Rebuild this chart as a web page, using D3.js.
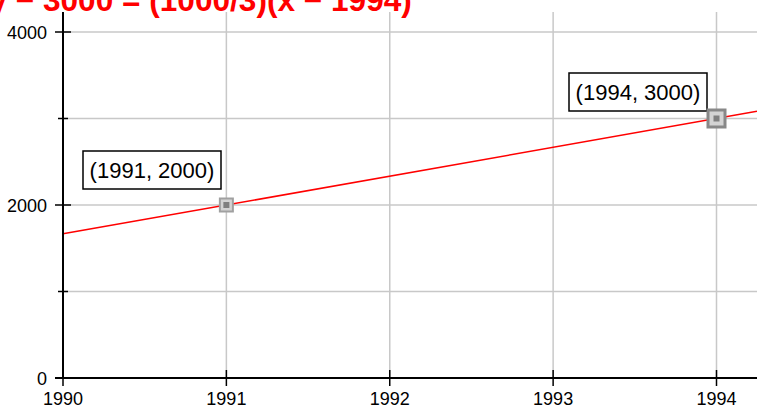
<!DOCTYPE html>
<html>
<head>
<meta charset="utf-8">
<script src="https://cdn.jsdelivr.net/npm/d3@7"></script>
<style>
  html, body { margin: 0; padding: 0; background: #fff; overflow: hidden; }
</style>
</head>
<body>
<div id="chart"></div>
<script>
// data
const titleText = "y \u2212 3000 = (1000/3)(x \u2212 1994)";
const pointsX = [1991, 1994];
const pointsY = [2000, 3000];
const pointLabels = ["(1991, 2000)", "(1994, 3000)"];
const xTicks = [1990, 1991, 1992, 1993, 1994];
const yMajorTicks = [0, 2000, 4000];
const yMinorTicks = [1000, 3000];
const yGrid = [1000, 2000, 3000, 4000];

const width = 757, height = 408;

// scales
const x = d3.scaleLinear().domain([1990, 1994]).range([63, 716.5]);
const y = d3.scaleLinear().domain([0, 4000]).range([378, 32]);
const xMax = x.invert(width);
const yMax = y.invert(12);

const svg = d3.select("#chart").append("svg")
    .attr("width", width)
    .attr("height", height)
    .style("font-family", "'Liberation Sans', Arial, sans-serif");

// grid
svg.append("g").selectAll("line")
    .data(yGrid)
    .join("line")
    .attr("x1", x(1990)).attr("x2", width)
    .attr("y1", d => y(d)).attr("y2", d => y(d))
    .attr("stroke", "#c8c8c8").attr("stroke-width", 1.5);

svg.append("g").selectAll("line")
    .data(xTicks.slice(1))
    .join("line")
    .attr("x1", d => x(d)).attr("x2", d => x(d))
    .attr("y1", y(yMax)).attr("y2", y(0))
    .attr("stroke", "#c8c8c8").attr("stroke-width", 1.5);

// line through the two points
const slope = (pointsY[1] - pointsY[0]) / (pointsX[1] - pointsX[0]);
const f = t => pointsY[1] + slope * (t - pointsX[1]);
svg.append("line")
    .attr("x1", x(1990)).attr("y1", y(f(1990)))
    .attr("x2", x(xMax)).attr("y2", y(f(xMax)))
    .attr("stroke", "#ff0000").attr("stroke-width", 1.5);

// axes
const axes = svg.append("g").attr("stroke", "#000");
axes.append("line")
    .attr("x1", x(1990)).attr("x2", x(1990))
    .attr("y1", y(yMax)).attr("y2", y(0))
    .attr("stroke-width", 2);
axes.append("line")
    .attr("x1", x(1990) - 8).attr("x2", width)
    .attr("y1", y(0)).attr("y2", y(0))
    .attr("stroke-width", 2);

axes.selectAll(".ymaj")
    .data(yMajorTicks)
    .join("line")
    .attr("x1", x(1990) - 8).attr("x2", x(1990) + 8)
    .attr("y1", d => y(d)).attr("y2", d => y(d))
    .attr("stroke-width", 1.5);
axes.selectAll(".ymin")
    .data(yMinorTicks)
    .join("line")
    .attr("x1", x(1990) - 5).attr("x2", x(1990) + 5)
    .attr("y1", d => y(d)).attr("y2", d => y(d))
    .attr("stroke-width", 1.5);
axes.selectAll(".xt")
    .data(xTicks)
    .join("line")
    .attr("x1", d => x(d)).attr("x2", d => x(d))
    .attr("y1", y(0) - 8).attr("y2", y(0) + 8)
    .attr("stroke-width", 1.5);

// tick labels
svg.append("g").selectAll("text")
    .data(yMajorTicks)
    .join("text")
    .attr("x", 47)
    .attr("y", d => y(d) + 7)
    .attr("text-anchor", "end")
    .attr("font-size", 18)
    .attr("fill", "#000")
    .text(d => d);

svg.append("g").selectAll("text")
    .data(xTicks)
    .join("text")
    .attr("x", d => x(d))
    .attr("y", 405)
    .attr("text-anchor", "middle")
    .attr("font-size", 18)
    .attr("fill", "#000")
    .text(d => d);

// point labels in boxes
const boxes = [
    { x0: 83, y0: 151 },
    { x0: 569, y0: 73 }
];
const lab = svg.append("g").selectAll("g")
    .data(pointLabels)
    .join("g")
    .attr("transform", (d, i) => `translate(${boxes[i].x0},${boxes[i].y0})`);
lab.append("rect")
    .attr("width", 138).attr("height", 38)
    .attr("fill", "#fff").attr("stroke", "#000").attr("stroke-width", 1.5);
lab.append("text")
    .attr("x", 69).attr("y", 27)
    .attr("text-anchor", "middle")
    .attr("font-size", 22)
    .attr("fill", "#000")
    .text(d => d);

// point markers
const sizes = [15, 19];
const mk = svg.append("g").selectAll("g")
    .data(pointsX)
    .join("g")
    .attr("transform", (d, i) => `translate(${x(d)},${y(pointsY[i])})`);
mk.append("rect")
    .attr("x", (d, i) => -sizes[i] / 2 + 1)
    .attr("y", (d, i) => -sizes[i] / 2 + 1)
    .attr("width", (d, i) => sizes[i] - 2)
    .attr("height", (d, i) => sizes[i] - 2)
    .attr("fill", "#d4d4d4")
    .attr("stroke", (d, i) => i ? "#888" : "#a0a0a0")
    .attr("stroke-width", (d, i) => i ? 3 : 2);
mk.append("rect")
    .attr("x", -3).attr("y", -3).attr("width", 6).attr("height", 6)
    .attr("fill", "#808080");

// title (clipped at top); fit so "3000" starts at 43 and text ends at 412
const title = svg.append("text")
    .attr("x", 0)
    .attr("y", 11)
    .attr("font-size", 32)
    .attr("font-weight", "bold")
    .attr("fill", "#ff0000")
    .text(titleText);
const tn = title.node();
const i3 = titleText.indexOf("3000");
const s0 = tn.getStartPositionOfChar(i3).x;
const e0 = tn.getComputedTextLength();
const k = (412 - 43) / (e0 - s0);
title.attr("font-size", 32 * k).attr("x", 43 - s0 * k);
</script>
</body>
</html>
